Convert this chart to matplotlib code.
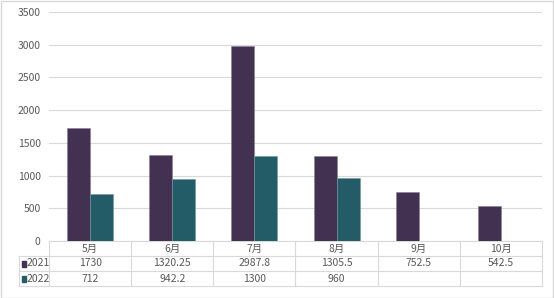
import numpy as np
import matplotlib
matplotlib.use("Agg")
import matplotlib.pyplot as plt
from matplotlib.patches import Rectangle

plt.rcParams["font.family"] = ["Noto Sans CJK SC", "DejaVu Sans"]

months = ["5月", "6月", "7月", "8月", "9月", "10月"]
series_names = ["2021", "2022"]
vals_2021 = [1730, 1320.25, 2987.8, 1305.5, 752.5, 542.5]
vals_2022 = [712, 942.2, 1300, 960, None, None]
labels_2021 = ["1730", "1320.25", "2987.8", "1305.5", "752.5", "542.5"]
labels_2022 = ["712", "942.2", "1300", "960", "", ""]
colors = ["#433152", "#235b66"]
yticks = [0, 500, 1000, 1500, 2000, 2500, 3000, 3500]

W, H = 554, 298
fig = plt.figure(figsize=(W / 100, H / 100), dpi=100)
ax = fig.add_axes([49 / W, (H - 241) / H, (542 - 49) / W, (241 - 12) / H])

x = np.arange(len(months))
bw = 0.28
v22 = [np.nan if v is None else v for v in vals_2022]
ax.bar(x - bw / 2, vals_2021, bw, color=colors[0], edgecolor="#8a7f96", linewidth=0.4, zorder=3)
ax.bar(x + bw / 2, v22, bw, color=colors[1], edgecolor="#6f9aa3", linewidth=0.4, zorder=3)

ax.set_xlim(-0.5, len(months) - 0.5)
ax.set_ylim(0, 3500)
ax.set_yticks(yticks)
ax.set_yticklabels([str(t) for t in yticks], fontsize=7.5, color="#595959")
ax.tick_params(axis="y", length=0, pad=6)
ax.set_xticks([])
ax.grid(axis="y", color="#d9d9d9", linewidth=0.8, zorder=0)
for s in ax.spines.values():
    s.set_visible(False)

# data table below the plot
grid_c = "#d9d9d9"
txt_c = "#595959"
fs = 7.5
rh = 15 / 229  # row height in axes fraction
trans = ax.get_xaxis_transform()
left_x = -0.5 - (49 - 19) / ((542 - 49) / len(months))
rows_y = [0, -rh, -2 * rh, -3 * rh]
kw = dict(transform=trans, clip_on=False, color=grid_c, linewidth=0.8)
ax.plot([-0.5, len(months) - 0.5], [0, 0], **kw)
for yy in rows_y[1:]:
    ax.plot([left_x, len(months) - 0.5], [yy, yy], **kw)
ax.plot([left_x, left_x], [-rh, -3 * rh], **kw)
for b in np.arange(-0.5, len(months), 1.0):
    ax.plot([b, b], [0, -3 * rh], **kw)

for i, m in enumerate(months):
    ax.text(i, -0.5 * rh, m, transform=trans, ha="center", va="center", fontsize=fs, color=txt_c)
    ax.text(i, -1.5 * rh, labels_2021[i], transform=trans, ha="center", va="center", fontsize=fs, color=txt_c)
    ax.text(i, -2.5 * rh, labels_2022[i], transform=trans, ha="center", va="center", fontsize=fs, color=txt_c)

for r, (name, c) in enumerate(zip(series_names, colors)):
    yc = -(r + 1.5) * rh
    sw = 0.05
    ax.add_patch(Rectangle((left_x + 0.04, yc - 0.014), sw, 0.024, transform=trans,
                           color=c, clip_on=False))
    ax.text(left_x + 0.095, yc, name, transform=trans, ha="left", va="center", fontsize=fs, color=txt_c)

fig.patches.append(Rectangle((0.5 / W, 0.5 / H), 1 - 1.5 / W, 1 - 1.5 / H, transform=fig.transFigure,
                             fill=False, edgecolor="#d9d9d9", linewidth=1))

fig.savefig("out.png", dpi=100)
